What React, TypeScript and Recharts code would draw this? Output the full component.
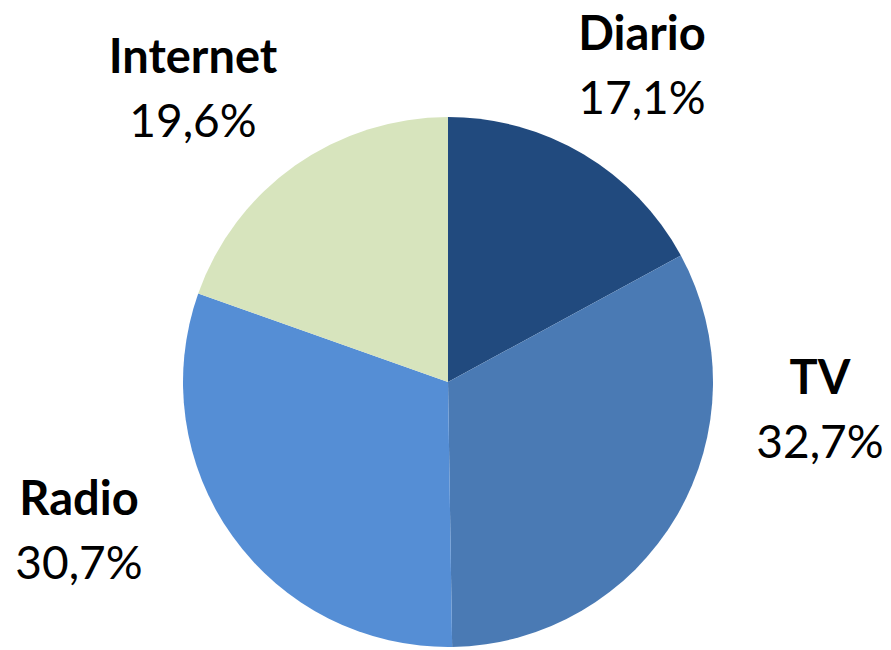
import React from 'react';
import { PieChart, Pie, Cell } from 'recharts';

const categories = ['Diario', 'TV', 'Radio', 'Internet'];
const shares = [17.1, 32.7, 30.7, 19.6];
const colors = ['#214A7E', '#4A7AB4', '#558ED5', '#D7E4BD'];

const data = categories.map((name, i) => ({ name, value: shares[i] }));

// label anchor offsets from pie centre (Excel "best fit" placement)
const labelOffsets: Record<string, { dx: number; dy: number }> = {
  Diario: { dx: 194, dy: -332 },
  TV: { dx: 372, dy: 12 },
  Radio: { dx: -369, dy: 133 },
  Internet: { dx: -255, dy: -309 },
};

const fmt = (v: number) => v.toFixed(1).replace('.', ',') + '%';

const renderLabel = (props: any) => {
  const { cx, cy, name, value } = props;
  const off = labelOffsets[name] || { dx: 0, dy: 0 };
  const x = cx + off.dx;
  const y = cy + off.dy;
  return (
    <g>
      <text x={x} y={y} textAnchor="middle" fill="#000" fontSize={47} fontWeight="bold" fontFamily="Lato, sans-serif">
        {name}
      </text>
      <text x={x} y={y + 64} textAnchor="middle" fill="#000" fontSize={46} fontFamily="Lato, sans-serif">
        {fmt(value)}
      </text>
    </g>
  );
};

export default function App() {
  return (
    <div style={{ width: 891, height: 650, background: '#fff' }}>
      <style>{`body{margin:0}`}</style>
      <PieChart width={891} height={650} margin={{ top: 0, right: 0, bottom: 0, left: 0 }}>
        <Pie
          data={data}
          dataKey="value"
          nameKey="name"
          cx={448}
          cy={382}
          outerRadius={265}
          startAngle={90}
          endAngle={-270}
          stroke="none"
          labelLine={false}
          label={renderLabel}
          isAnimationActive={false}
        >
          {data.map((entry, i) => (
            <Cell key={entry.name} fill={colors[i]} />
          ))}
        </Pie>
      </PieChart>
    </div>
  );
}
